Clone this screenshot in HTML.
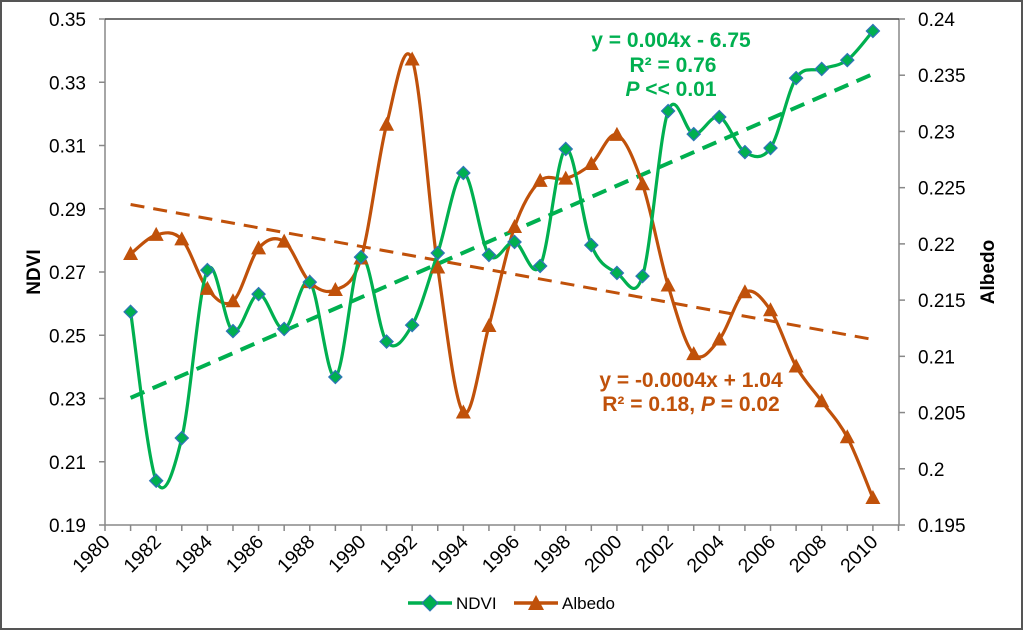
<!DOCTYPE html>
<html><head><meta charset="utf-8"><style>
html,body{margin:0;padding:0;background:#fff;}
svg text{font-family:"Liberation Sans",Arial,sans-serif;}
</style></head><body>
<svg id="chart" width="1024" height="631" viewBox="0 0 1024 631" xmlns="http://www.w3.org/2000/svg">
<rect x="1" y="1" width="1021" height="628" fill="#fff" stroke="#555" stroke-width="2"/>
<g id="axes"></g>
<g id="series"></g>
<text x="0" y="0" transform="translate(40,272) rotate(-90)" text-anchor="middle" font-size="19" font-weight="bold" fill="#000">NDVI</text>
<text x="0" y="0" transform="translate(994,272) rotate(-90)" text-anchor="middle" font-size="19" font-weight="bold" fill="#000">Albedo</text>
<g font-size="21" font-weight="bold" fill="#00b050" text-anchor="middle">
<text x="671" y="47">y = 0.004x - 6.75</text>
<text x="673" y="72">R² = 0.76</text>
<text x="671" y="96"><tspan font-style="italic">P</tspan> &lt;&lt; 0.01</text>
</g>
<g font-size="21" font-weight="bold" fill="#c0510a" text-anchor="middle">
<text x="691" y="387">y = -0.0004x + 1.04</text>
<text x="691" y="411">R² = 0.18, <tspan font-style="italic">P</tspan> = 0.02</text>
</g>
<g>
<g>
<line x1="408" y1="603" x2="452" y2="603" stroke="#00b050" stroke-width="3.5"/>
<path d="M430 595 L438 603 L430 611 L422 603 Z" fill="#00b050" stroke="#2e75b6" stroke-width="1"/>
<text x="456" y="609" font-size="17" fill="#000">NDVI</text>
</g>
<g>
<line x1="514" y1="603" x2="558" y2="603" stroke="#c0510a" stroke-width="3.5"/>
<path d="M536 595 L544 610 L528 610 Z" fill="#c0510a"/>
<text x="562" y="609" font-size="17" fill="#000">Albedo</text>
</g>
</g>
</svg>
<script>
const years=[1981,1982,1983,1984,1985,1986,1987,1988,1989,1990,1991,1992,1993,1994,1995,1996,1997,1998,1999,2000,2001,2002,2003,2004,2005,2006,2007,2008,2009,2010];
const ndvi=[0.2574,0.204,0.2175,0.2706,0.2513,0.263,0.252,0.2668,0.2368,0.2747,0.248,0.2532,0.276,0.3013,0.2754,0.2795,0.2719,0.3089,0.2785,0.2697,0.2687,0.3209,0.3136,0.319,0.3079,0.3092,0.3313,0.3342,0.337,0.3462];
const albedo=[0.2191,0.2208,0.2204,0.216,0.2149,0.2196,0.2202,0.2166,0.2159,0.2187,0.2306,0.2364,0.2179,0.205,0.2127,0.2215,0.2256,0.2258,0.2271,0.2297,0.2253,0.2163,0.2102,0.2115,0.2157,0.2141,0.2091,0.206,0.2028,0.1974];
const ndviTrend=[0.2302,0.3326];
const albedoTrend=[0.2235,0.2115];
const xTicks=[1980,1982,1984,1986,1988,1990,1992,1994,1996,1998,2000,2002,2004,2006,2008,2010];
const yTicks=[0.19,0.21,0.23,0.25,0.27,0.29,0.31,0.33,0.35];
const y2Ticks=[0.195,0.2,0.205,0.21,0.215,0.22,0.225,0.23,0.235,0.24];
const X0=105,X1=899,YT=19,YB=525;
const xs=y=>X0+(y-1980)*(X1-X0)/31.02;
const ys=v=>YB-(v-0.19)*(YB-YT)/0.16;
const y2s=v=>YB-(v-0.195)*(YB-YT)/0.045;
const NS='http://www.w3.org/2000/svg';
function mk(t,a,p){const e=document.createElementNS(NS,t);for(const k in a)e.setAttribute(k,a[k]);p.appendChild(e);return e;}
const ax=document.getElementById('axes'),se=document.getElementById('series');
const axl=mk('path',{d:`M${X0} ${YT} V${YB} H${X1} V${YT}`,fill:'none',stroke:'#888','stroke-width':1.5},ax);


const topl=mk('line',{x1:X0,x2:X1,y1:YT,y2:YT,stroke:'#444','stroke-width':1.5},ax);


for(let y=1980;y<=2011;y++){mk('line',{x1:xs(y),x2:xs(y),y1:YB,y2:YB+6,stroke:'#888','stroke-width':1.5},ax);}
xTicks.forEach(t=>{const x=xs(t);const e=mk('text',{transform:`translate(${x+6},${YB+18}) rotate(-45)`,'text-anchor':'end','font-size':19.5,fill:'#000'},ax);e.textContent=t;

});
yTicks.forEach(t=>{const y=ys(t);mk('line',{x1:X0-6,x2:X0,y1:y,y2:y,stroke:'#888','stroke-width':1.5},ax);const e=mk('text',{x:X0-19,y:y+7,'text-anchor':'end','font-size':19,fill:'#000'},ax);e.textContent=t.toFixed(2);

});
y2Ticks.forEach(t=>{const y=y2s(t);mk('line',{x1:X1,x2:X1+6,y1:y,y2:y,stroke:'#888','stroke-width':1.5},ax);const e=mk('text',{x:X1+19,y:y+7,'font-size':19,fill:'#000'},ax);e.textContent=String(t);

});
function smooth(pts){let d=`M${pts[0][0]} ${pts[0][1]}`;for(let i=0;i<pts.length-1;i++){const p0=pts[i-1]||pts[i],p1=pts[i],p2=pts[i+1],p3=pts[i+2]||p2;const t=1/6;d+=` C${p1[0]+(p2[0]-p0[0])*t} ${p1[1]+(p2[1]-p0[1])*t} ${p2[0]-(p3[0]-p1[0])*t} ${p2[1]-(p3[1]-p1[1])*t} ${p2[0]} ${p2[1]}`;}return d;}
const tn=mk('line',{x1:xs(1981),y1:ys(ndviTrend[0]),x2:xs(2010),y2:ys(ndviTrend[1]),stroke:'#00b050','stroke-width':4,'stroke-dasharray':'15 9'},se);


const ta=mk('line',{x1:xs(1981),y1:y2s(albedoTrend[0]),x2:xs(2010),y2:y2s(albedoTrend[1]),stroke:'#c0510a','stroke-width':3,'stroke-dasharray':'14 9'},se);


const ap=years.map((y,i)=>[xs(y),y2s(albedo[i])]);
const al=mk('path',{d:smooth(ap),fill:'none',stroke:'#c0510a','stroke-width':3.2},se);


const np=years.map((y,i)=>[xs(y),ys(ndvi[i])]);
const nl=mk('path',{d:smooth(np),fill:'none',stroke:'#00b050','stroke-width':3.2},se);


ap.forEach(([x,y])=>{const m=mk('path',{d:`M${x} ${y-8} L${x+7.5} ${y+6} L${x-7.5} ${y+6} Z`,fill:'#c0510a'},se);

});
np.forEach(([x,y])=>{const m=mk('path',{d:`M${x} ${y-6.5} L${x+6.5} ${y} L${x} ${y+6.5} L${x-6.5} ${y} Z`,fill:'#00b050',stroke:'#2e75b6','stroke-width':1.3},se);

});
</script>
</body></html>
